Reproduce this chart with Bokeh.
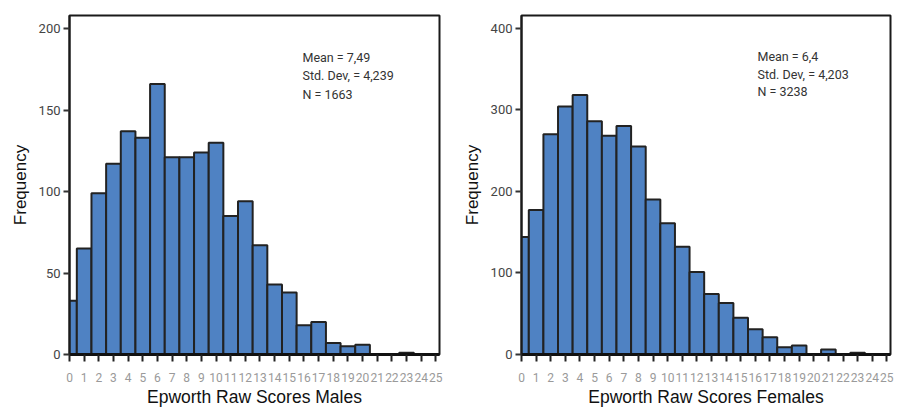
from bokeh.plotting import figure
from bokeh.layouts import row
from bokeh.models import Range1d, Label, FixedTicker
from bokeh.embed import file_html
from bokeh.resources import INLINE

scores = list(range(26))
males = [33, 65, 99, 117, 137, 133, 166, 121, 121, 124, 130, 85, 94, 67, 43, 38,
         18, 20, 7, 5, 6, 0, 0, 1, 0, 0]
females = [144, 177, 270, 304, 318, 286, 268, 280, 255, 190, 161, 132, 101, 74, 63, 45,
           31, 21, 9, 11, 0, 6, 0, 2, 0, 0]
male_stats = ["Mean = 7,49", "Std. Dev, = 4,239", "N = 1663"]
female_stats = ["Mean = 6,4", "Std. Dev, = 4,203", "N = 3238"]

NARROW = "Roboto"
BAR = "#4f82c3"


def make(counts, stats, xlabel, ymax, yticks, width, bl, br, bt, bb, tx, ty):
    p = figure(width=width, height=413, output_backend="svg", toolbar_location=None,
               x_range=Range1d(0, 25.25), y_range=Range1d(0, ymax),
               min_border_left=bl, min_border_right=br, min_border_top=bt,
               min_border_bottom=bb)
    p.vbar(x=scores, top=counts, width=1, fill_color=BAR, line_color="#222222",
           line_width=2)
    p.xgrid.visible = False
    p.ygrid.visible = False
    p.outline_line_color = "#1a1a1a"
    p.outline_line_width = 2
    p.outline_line_alpha = 1

    xa = p.xaxis[0]
    xa.ticker = FixedTicker(ticks=scores)
    xa.minor_tick_line_color = None
    xa.axis_line_color = "#111111"
    xa.axis_line_width = 3
    xa.major_tick_in = 0
    xa.major_tick_out = 7
    xa.major_tick_line_color = "#222222"
    xa.major_tick_line_width = 2
    xa.major_label_text_font = NARROW
    xa.major_label_text_font_size = "12px"
    xa.major_label_text_color = "#9a9a9a"
    xa.major_label_standoff = 11
    xa.axis_label = xlabel
    xa.axis_label_text_font = "Liberation Sans"
    xa.axis_label_text_font_size = "17.5px"
    xa.axis_label_text_font_style = "normal"
    xa.axis_label_text_color = "#111111"
    xa.axis_label_standoff = 2

    ya = p.yaxis[0]
    ya.ticker = FixedTicker(ticks=yticks)
    ya.minor_tick_line_color = None
    ya.axis_line_color = "#1a1a1a"
    ya.axis_line_width = 2
    ya.major_tick_in = 0
    ya.major_tick_out = 6
    ya.major_tick_line_color = "#333333"
    ya.major_tick_line_width = 2
    ya.major_label_text_font = NARROW
    ya.major_label_text_font_size = "13px"
    ya.major_label_text_color = "#444444"
    ya.major_label_standoff = 3
    ya.axis_label = "Frequency"
    ya.axis_label_text_font = "Liberation Sans"
    ya.axis_label_text_font_size = "17px"
    ya.axis_label_text_font_style = "normal"
    ya.axis_label_text_color = "#111111"
    ya.axis_label_standoff = 6

    frame_bottom = 413 - bb
    for i, s in enumerate(stats):
        p.add_layout(Label(x=tx, y=frame_bottom - (ty[i]), x_units="screen",
                           y_units="screen", text=s, text_font=NARROW,
                           text_font_size="12.5px", text_color="#333333",
                           text_baseline="middle"))
    return p


p1 = make(males, male_stats, "Epworth Raw Scores Males", 208, [0, 50, 100, 150, 200],
          449, 69, 10, 15, 56, 233, [59.5, 78, 96.5])
p2 = make(females, female_stats, "Epworth Raw Scores Females", 415.5, [0, 100, 200, 300, 400],
          449, 72, 8, 14, 59, 236, [56, 74, 91])

layout = row(p1, p2)
open("out.html", "w").write(file_html(layout, INLINE))
